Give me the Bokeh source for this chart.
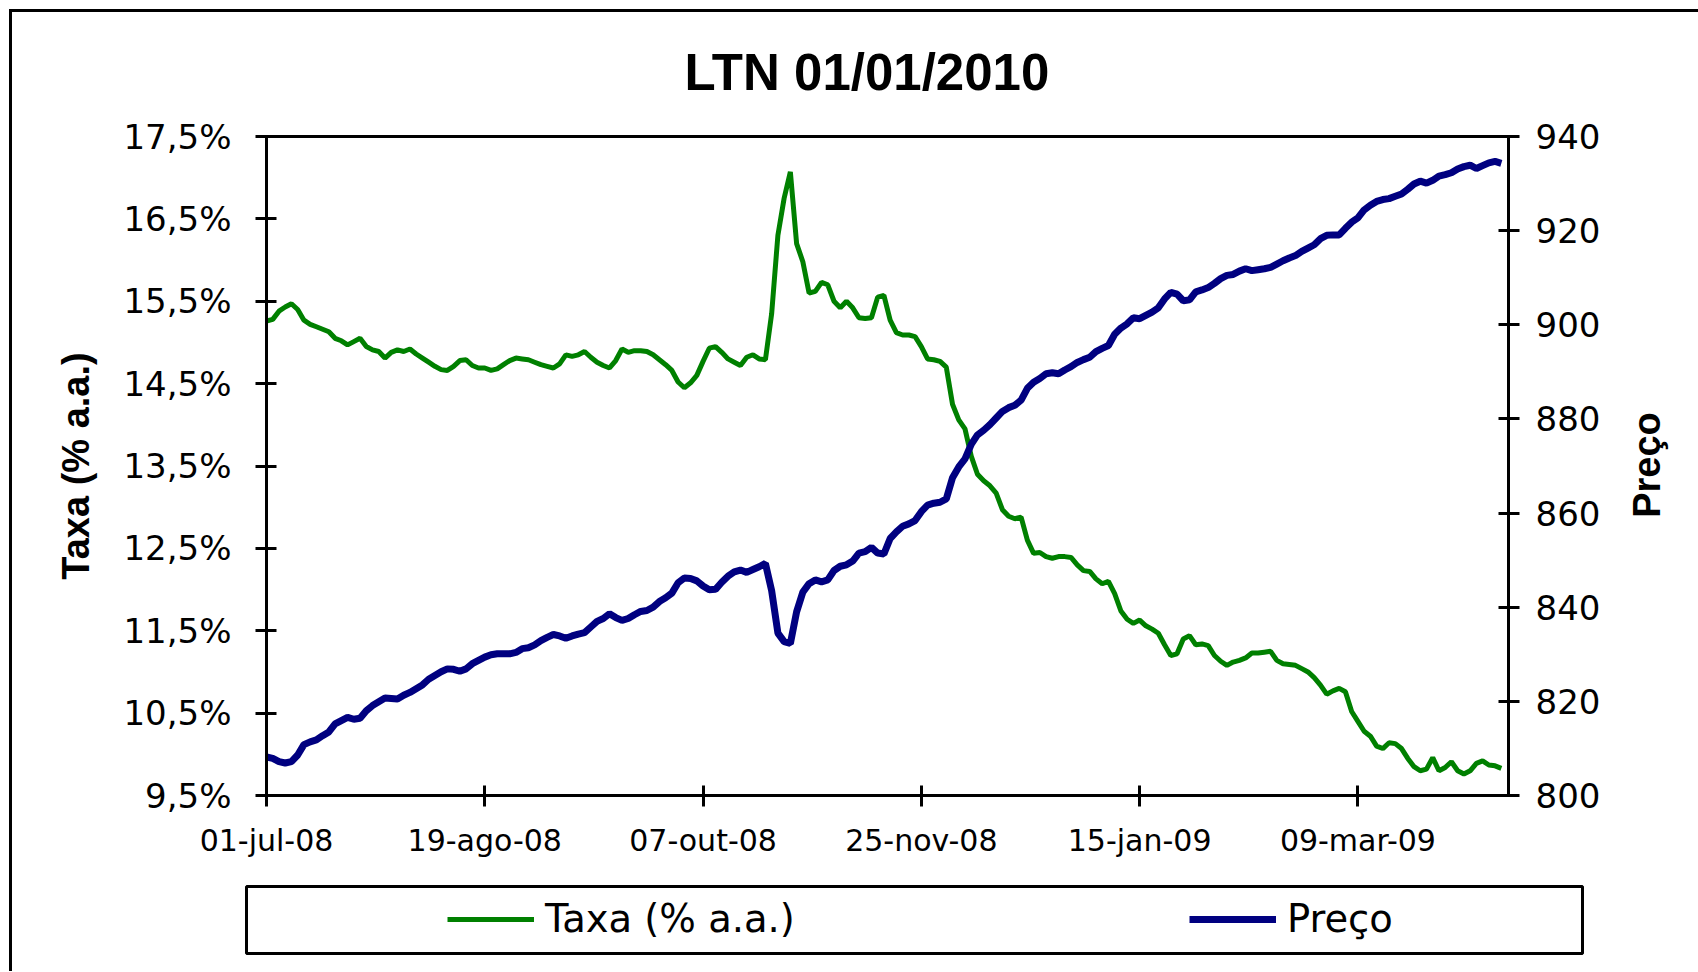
import math
from bokeh.plotting import figure
from bokeh.layouts import column
from bokeh.models import Range1d, LinearAxis, FixedTicker, Legend, LegendItem
from bokeh.embed import file_html
from bokeh.resources import INLINE

# ---------------- data ----------------
x_tick_idx = [0, 35, 70, 105, 140, 175]
x_tick_labels = ["01-jul-08", "19-ago-08", "07-out-08", "25-nov-08", "15-jan-09", "09-mar-09"]

taxa = [
    15.26, 15.28, 15.38, 15.43, 15.47, 15.40, 15.27, 15.22, 15.19, 15.16,
    15.13, 15.05, 15.02, 14.97, 15.01, 15.05, 14.95, 14.91, 14.89, 14.81,
    14.88, 14.91, 14.89, 14.92, 14.86, 14.81, 14.76, 14.71, 14.67, 14.66,
    14.71, 14.78, 14.79, 14.72, 14.69, 14.69, 14.66, 14.68, 14.73, 14.78,
    14.81, 14.80, 14.79, 14.76, 14.73, 14.71, 14.69, 14.74, 14.85, 14.83,
    14.85, 14.89, 14.82, 14.76, 14.72, 14.69, 14.78, 14.92, 14.88, 14.90,
    14.90, 14.89, 14.85, 14.79, 14.73, 14.66, 14.52, 14.45, 14.51, 14.60,
    14.77, 14.93, 14.95, 14.88, 14.80, 14.76, 14.72, 14.82, 14.85, 14.80,
    14.79, 15.35, 16.30, 16.75, 17.07, 16.20, 15.98, 15.60, 15.62, 15.73,
    15.70, 15.50, 15.42, 15.50, 15.42, 15.30, 15.29, 15.30, 15.55, 15.57,
    15.27, 15.12, 15.09, 15.09, 15.07, 14.95, 14.80, 14.79, 14.77, 14.70,
    14.25, 14.06, 13.95, 13.62, 13.40, 13.32, 13.26, 13.17, 12.97, 12.89,
    12.86, 12.88, 12.60, 12.44, 12.45, 12.40, 12.38, 12.40, 12.40, 12.39,
    12.30, 12.23, 12.22, 12.13, 12.07, 12.10, 11.95, 11.74, 11.64, 11.59,
    11.63, 11.56, 11.52, 11.47, 11.33, 11.20, 11.22, 11.40, 11.44, 11.33,
    11.34, 11.32, 11.20, 11.13, 11.08, 11.12, 11.14, 11.17, 11.23, 11.23,
    11.24, 11.25, 11.14, 11.10, 11.09, 11.08, 11.04, 11.00, 10.93, 10.84,
    10.73, 10.77, 10.80, 10.76, 10.52, 10.40, 10.28, 10.22, 10.10, 10.07,
    10.14, 10.13, 10.07, 9.95, 9.85, 9.80, 9.82, 9.96, 9.80, 9.84,
    9.91, 9.80, 9.76, 9.80, 9.89, 9.92, 9.87, 9.86, 9.83,
]

preco = [
    808.2, 807.9, 807.2, 806.9, 807.2, 808.6, 810.8, 811.4, 811.8, 812.7,
    813.5, 815.2, 815.9, 816.6, 816.2, 816.4, 818.0, 819.1, 819.9, 820.7,
    820.6, 820.5, 821.3, 821.9, 822.7, 823.5, 824.7, 825.5, 826.3, 826.9,
    826.8, 826.4, 826.9, 828.0, 828.7, 829.4, 829.9, 830.1, 830.1, 830.1,
    830.4, 831.2, 831.4, 832.0, 832.9, 833.6, 834.2, 833.9, 833.4, 833.9,
    834.3, 834.6, 835.8, 837.0, 837.6, 838.6, 837.8, 837.2, 837.6, 838.4,
    839.1, 839.3, 840.0, 841.2, 842.0, 843.0, 845.2, 846.2, 846.1, 845.6,
    844.5, 843.7, 843.8, 845.3, 846.6, 847.5, 847.9, 847.4, 848.0, 848.6,
    849.3, 843.5, 834.5, 832.7, 832.3, 839.0, 843.2, 845.0, 845.8, 845.4,
    845.8, 847.8, 848.7, 849.0, 849.8, 851.5, 851.8, 852.7, 851.5, 851.3,
    854.6, 856.0, 857.2, 857.7, 858.4, 860.3, 861.7, 862.1, 862.3, 863.0,
    867.5, 869.8, 871.5, 874.6, 876.6, 877.6, 878.8, 880.2, 881.6, 882.4,
    882.9, 884.0, 886.5, 887.8, 888.6, 889.6, 889.8, 889.6, 890.4, 891.1,
    892.0, 892.6, 893.1, 894.3, 895.0, 895.6, 898.0, 899.3, 900.2, 901.5,
    901.3, 902.0, 902.7, 903.6, 905.5, 906.9, 906.5, 905.1, 905.3, 907.0,
    907.4, 907.9, 908.8, 909.8, 910.5, 910.7, 911.4, 911.9, 911.5, 911.7,
    911.9, 912.2, 912.9, 913.6, 914.2, 914.7, 915.6, 916.3, 917.0, 918.3,
    919.0, 919.1, 919.1, 920.5, 921.8, 922.7, 924.4, 925.4, 926.2, 926.6,
    926.8, 927.3, 927.8, 928.8, 929.9, 930.5, 930.1, 930.7, 931.6, 931.9,
    932.3, 933.1, 933.6, 933.9, 933.2, 933.8, 934.4, 934.7, 934.3,
]

left_ticks = [9.5, 10.5, 11.5, 12.5, 13.5, 14.5, 15.5, 16.5, 17.5]
left_tick_labels = ["9,5%", "10,5%", "11,5%", "12,5%", "13,5%", "14,5%", "15,5%", "16,5%", "17,5%"]
right_ticks = [800, 820, 840, 860, 880, 900, 920, 940]
series_names = ["Taxa (% a.a.)", "Preço"]

idx = list(range(len(taxa)))

GREEN = "#008000"
NAVY = "#000080"
FONT = "DejaVu Sans"
ARIAL = "Liberation Sans"

# ---------------- main chart ----------------
p = figure(width=1686, height=870, output_backend="svg", toolbar_location=None,
           x_range=Range1d(0, 199.15), y_range=Range1d(9.5, 17.5),
           min_border_left=254, min_border_right=190, min_border_top=131,
           min_border_bottom=80)
p.frame_align = False
p.styles = {"margin-top": "-7px"}
p.extra_y_ranges = {"preco": Range1d(800, 940)}
p.grid.visible = False
p.outline_line_color = "black"
p.outline_line_width = 3
p.background_fill_color = "white"
p.border_fill_color = None

p.title.text = "LTN 01/01/2010"
p.title.align = "left"
p.title.text_font = ARIAL
p.title.text_font_style = "bold"
p.title.text_font_size = "51px"
p.title.text_color = "black"
p.title.offset = 418
p.title.standoff = 71

r_taxa = p.line(idx, taxa, line_color=GREEN, line_width=5)
r_preco = p.line(idx, preco, line_color=NAVY, line_width=7, y_range_name="preco")

def style_axis(ax, size):
    ax.axis_line_width = 3
    ax.major_tick_line_width = 3
    ax.major_tick_in = 10
    ax.major_tick_out = 11
    ax.minor_tick_line_color = None
    ax.major_label_text_font = FONT
    ax.major_label_text_font_size = size
    ax.major_label_text_color = "black"
    ax.axis_label_text_color = "black"

xa = p.xaxis[0]
style_axis(xa, "30px")
xa.ticker = FixedTicker(ticks=x_tick_idx)
xa.major_label_overrides = {t: l for t, l in zip(x_tick_idx, x_tick_labels)}
xa.major_label_standoff = 16

ya = p.yaxis[0]
style_axis(ya, "34px")
ya.ticker = FixedTicker(ticks=left_ticks)
ya.major_label_overrides = {t: l for t, l in zip(left_ticks, left_tick_labels)}
ya.major_label_standoff = 24
ya.axis_label = series_names[0]
ya.axis_label_text_font = ARIAL
ya.axis_label_text_font_style = "bold"
ya.axis_label_text_font_size = "38px"
ya.axis_label_standoff = 23

# right axis: ticks and tick labels
yr = LinearAxis(y_range_name="preco", ticker=FixedTicker(ticks=right_ticks))
style_axis(yr, "34px")
yr.major_label_standoff = 16
p.add_layout(yr, "right")

# right axis title ("Preço"), read bottom-to-top like the original;
# drawn as a single rotated label whose start sits at 859 on the price scale
title_pos = 859
yt = LinearAxis(y_range_name="preco", ticker=FixedTicker(ticks=[title_pos]))
yt.major_label_overrides = {title_pos: series_names[1]}
yt.axis_line_color = None
yt.major_tick_line_color = None
yt.major_tick_in = 0
yt.major_tick_out = 0
yt.minor_tick_line_color = None
yt.major_label_orientation = math.pi / 2
yt.major_label_text_font = ARIAL
yt.major_label_text_font_style = "bold"
yt.major_label_text_font_size = "38px"
yt.major_label_text_color = "black"
yt.major_label_standoff = 44
p.add_layout(yt, "right")

# ---------------- legend box (its frame is the legend border) ----------------
q = figure(width=1686, height=96, output_backend="svg", toolbar_location=None,
           x_axis_type=None, y_axis_type=None,
           x_range=Range1d(0, 1), y_range=Range1d(0, 1),
           min_border_left=234, min_border_right=116, min_border_top=11,
           min_border_bottom=18)
q.frame_align = False
q.grid.visible = False
q.outline_line_color = "black"
q.outline_line_width = 3
q.background_fill_color = "white"
q.border_fill_color = None
# proxies for the legend: the series lie outside this panel's ranges, so only the key shows
k_taxa = q.line(idx, taxa, line_color=GREEN, line_width=5)
k_preco = q.line(idx, preco, line_color=NAVY, line_width=7)

legend = Legend(items=[LegendItem(label=series_names[0], renderers=[k_taxa]),
                       LegendItem(label=series_names[1], renderers=[k_preco])],
                orientation="horizontal", location=(201, 12),
                label_text_font=FONT, label_text_font_size="38.5px",
                label_text_color="black",
                glyph_width=87, glyph_height=40, label_standoff=11,
                spacing=394, padding=0, margin=0,
                border_line_alpha=0, background_fill_alpha=0)
q.add_layout(legend, "center")

layout = column(p, q, spacing=0,
                styles={"margin-left": "9px", "margin-top": "9px",
                        "border-left": "3px solid black", "border-top": "3px solid black"})

open("out.html", "w").write(file_html(layout, INLINE))
